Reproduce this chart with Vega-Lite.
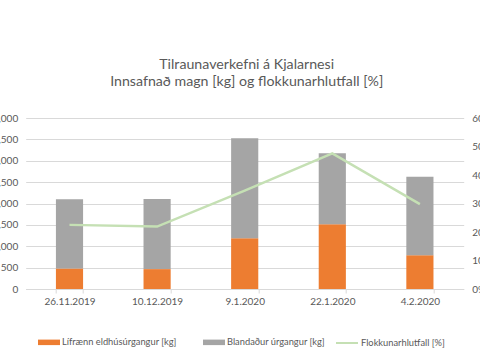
{
  "$schema": "https://vega.github.io/schema/vega-lite/v6.json",
  "width": 438,
  "height": 171,
  "autosize": {"type": "none"},
  "padding": {"left": 25.7, "top": 118, "right": 16.3, "bottom": 71},
  "background": "white",
  "title": {
    "text": ["Tilraunaverkefni á Kjalarnesi", "Innsafnað magn [kg] og flokkunarhlutfall [%]"],
    "font": "Lato",
    "fontSize": 14.2,
    "fontWeight": "normal",
    "color": "#595959",
    "lineHeight": 17,
    "frame": "group",
    "anchor": "middle",
    "offset": 24,
    "dx": 2
  },
  "datasets": {
    "bars": [
      {"date": "26.11.2019", "series": "Lífrænn eldhúsúrgangur [kg]", "value": 480, "ord": 0},
      {"date": "26.11.2019", "series": "Blandaður úrgangur [kg]", "value": 1620, "ord": 1},
      {"date": "10.12.2019", "series": "Lífrænn eldhúsúrgangur [kg]", "value": 465, "ord": 0},
      {"date": "10.12.2019", "series": "Blandaður úrgangur [kg]", "value": 1640, "ord": 1},
      {"date": "9.1.2020", "series": "Lífrænn eldhúsúrgangur [kg]", "value": 1186, "ord": 0},
      {"date": "9.1.2020", "series": "Blandaður úrgangur [kg]", "value": 2339, "ord": 1},
      {"date": "22.1.2020", "series": "Lífrænn eldhúsúrgangur [kg]", "value": 1513, "ord": 0},
      {"date": "22.1.2020", "series": "Blandaður úrgangur [kg]", "value": 1661, "ord": 1},
      {"date": "4.2.2020", "series": "Lífrænn eldhúsúrgangur [kg]", "value": 790, "ord": 0},
      {"date": "4.2.2020", "series": "Blandaður úrgangur [kg]", "value": 1835, "ord": 1}
    ],
    "line": [
      {"date": "26.11.2019", "series": "Flokkunarhlutfall [%]", "pct": 0.225},
      {"date": "10.12.2019", "series": "Flokkunarhlutfall [%]", "pct": 0.219},
      {"date": "9.1.2020", "series": "Flokkunarhlutfall [%]", "pct": 0.345},
      {"date": "22.1.2020", "series": "Flokkunarhlutfall [%]", "pct": 0.476},
      {"date": "4.2.2020", "series": "Flokkunarhlutfall [%]", "pct": 0.298}
    ]
  },
  "encoding": {
    "x": {
      "field": "date",
      "type": "nominal",
      "sort": ["26.11.2019", "10.12.2019", "9.1.2020", "22.1.2020", "4.2.2020"],
      "scale": {"paddingInner": 0.69, "paddingOuter": 0.345},
      "axis": {
        "title": null,
        "labelAngle": 0,
        "labelFont": "Lato",
        "labelFontSize": 10,
        "labelColor": "#595959",
        "labelPadding": 3,
        "domainColor": "#D9D9D9",
        "tickColor": "#D9D9D9",
        "tickSize": 4,
        "tickBand": "extent",
        "grid": false
      }
    }
  },
  "layer": [
    {
      "data": {"name": "bars"},
      "mark": {"type": "bar"},
      "encoding": {
        "y": {
          "field": "value",
          "type": "quantitative",
          "stack": "zero",
          "scale": {"domain": [0, 4000], "nice": false},
          "axis": {
            "title": null,
            "values": [0, 500, 1000, 1500, 2000, 2500, 3000, 3500, 4000],
            "format": ",.0f",
            "labelFont": "Lato",
            "labelFontSize": 10,
            "labelColor": "#595959",
            "labelPadding": 8,
            "tickSize": 0,
            "domain": false,
            "grid": true,
            "gridColor": "#D9D9D9",
            "gridWidth": 1
          }
        },
        "order": {"field": "ord", "type": "quantitative"},
        "fill": {
          "field": "series",
          "type": "nominal",
          "scale": {
            "domain": ["Lífrænn eldhúsúrgangur [kg]", "Blandaður úrgangur [kg]"],
            "range": ["#ED7D31", "#A5A5A5"]
          },
          "legend": {
            "title": null,
            "orient": "none",
            "legendX": 12.3,
            "legendY": 213,
            "padding": 0,
            "direction": "horizontal",
            "symbolType": "M-1,-0.25H1V0.25H-1Z",
            "symbolSize": 484,
            "symbolStrokeWidth": 0,
            "labelFont": "Lato",
            "labelFontSize": 9.3,
            "labelColor": "#595959",
            "labelOffset": 2,
            "columnPadding": 26,
            "labelLimit": 300
          }
        }
      }
    },
    {
      "data": {"name": "line"},
      "mark": {"type": "line", "strokeWidth": 2.5},
      "encoding": {
        "y": {
          "field": "pct",
          "type": "quantitative",
          "scale": {"domain": [0, 0.6], "nice": false},
          "axis": {
            "orient": "right",
            "title": null,
            "values": [0, 0.1, 0.2, 0.3, 0.4, 0.5, 0.6],
            "format": ".0%",
            "labelFont": "Lato",
            "labelFontSize": 10,
            "labelColor": "#595959",
            "labelPadding": 8,
            "tickSize": 0,
            "domain": false,
            "grid": false
          }
        },
        "stroke": {
          "field": "series",
          "type": "nominal",
          "scale": {"domain": ["Flokkunarhlutfall [%]"], "range": ["#C5E0B4"]},
          "legend": {
            "title": null,
            "orient": "none",
            "legendX": 309.3,
            "legendY": 213,
            "padding": 0,
            "direction": "horizontal",
            "symbolType": "stroke",
            "symbolSize": 484,
            "symbolStrokeWidth": 2,
            "labelFont": "Lato",
            "labelFontSize": 9.3,
            "labelColor": "#595959",
            "labelOffset": 2,
            "labelLimit": 300
          }
        }
      }
    }
  ],
  "resolve": {"scale": {"y": "independent"}},
  "config": {"view": {"stroke": null}}
}
